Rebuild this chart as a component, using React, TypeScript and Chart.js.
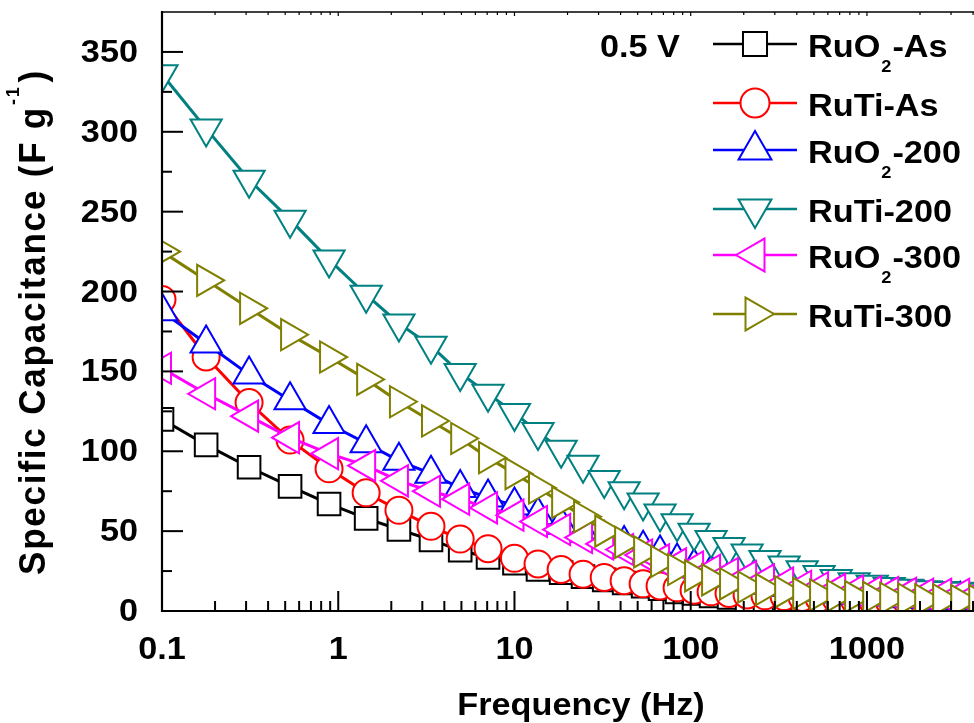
import React, { useEffect, useRef } from 'react';
import { Chart, registerables } from 'chart.js';

Chart.register(...registerables);

// ---------- data ----------
const frequencyHz = [
  0.1, 0.178, 0.312, 0.533, 0.887, 1.44, 2.21, 3.36, 4.92, 7.08,
  10, 13.6, 18.4, 24.5, 32.3, 41.9, 53.7, 67, 83.7, 104.5,
  130.5, 165, 209, 264, 339, 429, 535, 669, 846, 1071,
  1337, 1691, 2112, 2673, 3382, 4280,
];
const ruo2As = [
  120, 104, 90, 78, 67, 58, 51, 44.5, 38, 33.5,
  30, 26, 24, 21.5, 19.5, 17.5, 15.5, 14, 12, 11,
  9.5, 8.5, 7, 6, 5, 4.5, 4, 3.5, 3, 2.5,
  2.5, 2, 2, 2, 2, 2,
];
const rutiAs = [
  195, 159, 130.5, 107, 89, 74, 63, 53, 45, 39,
  33, 29.5, 26, 23, 21, 19, 17, 15.7, 14.5, 13,
  12, 11, 10, 9.5, 9, 8.5, 8, 7.5, 7, 6.5,
  6, 5.5, 5, 5, 5, 5,
];
const ruo2_200 = [
  187.6, 167.5, 148, 132, 117, 105, 94, 86, 77, 71,
  66, 60, 54, 49, 45, 42, 39, 36, 31, 27.6,
  24, 21, 18.5, 16.5, 15, 13.5, 12, 11, 10, 9.5,
  9, 8, 7.5, 7, 7, 7,
];
const ruti200 = [
  336, 302, 270, 245, 220, 198, 180, 166, 149, 136,
  124, 112, 101, 91.5, 82, 75, 68, 61, 55, 49,
  44.5, 40, 36, 32, 28.5, 25.5, 22.5, 20, 18, 16.5,
  15, 14, 13, 12.5, 12, 11.5,
];
const ruo2_300 = [
  152, 136, 122, 108.5, 98.5, 91, 81.5, 75, 70, 64.6,
  60, 56, 51, 46, 42, 38.5, 35, 32, 29.5, 27.5,
  25.5, 23.5, 21.5, 19.5, 17.5, 15.5, 14.5, 13.5, 12.5, 12,
  11.5, 11, 10.5, 10.5, 10.5, 11,
];
const ruti300 = [
  225, 207, 189.5, 173, 159, 145, 131, 119, 108, 96,
  86, 77, 68, 59, 50, 43, 37, 31, 26, 22,
  19.5, 17, 15, 13.5, 12, 11, 10, 9.5, 9, 8.5,
  8, 7.5, 7, 7, 6.5, 6.5,
];

const seriesLabels = ['RuO₂-As', 'RuTi-As', 'RuO₂-200', 'RuTi-200', 'RuO₂-300', 'RuTi-300'];
const xTickValues = [0.1, 1, 10, 100, 1000];
const xTickLabels = ['0.1', '1', '10', '100', '1000'];
const yTickValues = [0, 50, 100, 150, 200, 250, 300, 350];
const yTickLabels = ['0', '50', '100', '150', '200', '250', '300', '350'];
const xTitle = 'Frequency (Hz)';
const yTitleMain = 'Specific Capacitance (F g';
const yTitleSup = '-1';
const yTitleEnd = ')';
const annotationText = '0.5 V';

// ---------- layout / style ----------
const X_MIN = 0.1;
const X_MAX = 4050;
const Y_MIN = 0;
const Y_MAX = 375;

const STYLES = [
  { color: '#000000', pointStyle: 'rect', radius: 16, rotation: 0 },
  { color: '#FF0000', pointStyle: 'circle', radius: 13.5, rotation: 0 },
  { color: '#0000FF', pointStyle: 'triangle', radius: 18, rotation: 0 },
  { color: '#008080', pointStyle: 'triangle', radius: 18, rotation: 180 },
  { color: '#FF00FF', pointStyle: 'triangle', radius: 18, rotation: 270 },
  { color: '#808000', pointStyle: 'triangle', radius: 18, rotation: 90 },
];
const LEGEND_ROWS_Y = [44, 103, 150, 209, 255, 314];
const FAMILY = '"Liberation Sans", Arial, sans-serif';
const FONT32 = `bold 32px ${FAMILY}`;
const SX = 1.07;

function drawShape(ctx: CanvasRenderingContext2D, style: string, x: number, y: number, r: number, rotDeg: number) {
  ctx.beginPath();
  if (style === 'rect') {
    const h = r * Math.SQRT1_2;
    ctx.rect(x - h, y - h, 2 * h, 2 * h);
  } else if (style === 'circle') {
    ctx.arc(x, y, r, 0, Math.PI * 2);
  } else {
    let rad = (rotDeg * Math.PI) / 180;
    ctx.moveTo(x + Math.sin(rad) * r, y - Math.cos(rad) * r);
    rad += (2 * Math.PI) / 3;
    ctx.lineTo(x + Math.sin(rad) * r, y - Math.cos(rad) * r);
    rad += (2 * Math.PI) / 3;
    ctx.lineTo(x + Math.sin(rad) * r, y - Math.cos(rad) * r);
    ctx.closePath();
  }
  ctx.fill();
  ctx.stroke();
}

function measure(ctx: CanvasRenderingContext2D, text: string, font: string, sx: number) {
  ctx.save();
  ctx.font = font;
  const w = ctx.measureText(text).width * sx;
  ctx.restore();
  return w;
}

function drawStretched(ctx: CanvasRenderingContext2D, text: string, x: number, y: number, font: string, sx: number) {
  ctx.save();
  ctx.font = font;
  const w = ctx.measureText(text).width * sx;
  ctx.translate(x, y);
  ctx.scale(sx, 1);
  ctx.textAlign = 'left';
  ctx.textBaseline = 'alphabetic';
  ctx.fillText(text, 0, 0);
  ctx.restore();
  return w;
}

function drawLabel(ctx: CanvasRenderingContext2D, label: string, x: number, baseline: number) {
  let cx = x;
  const parts = label.split(/(₂)/);
  for (const p of parts) {
    if (!p) continue;
    if (p === '₂') {
      cx += 1;
      cx += drawStretched(ctx, '2', cx, baseline + 15, `bold 17px ${FAMILY}`, SX);
      cx += 1;
    } else {
      cx += drawStretched(ctx, p, cx, baseline, FONT32, SX);
    }
  }
}

const decorPlugin = {
  id: 'decor',
  afterDatasetsDraw(chart: any) {
    const { ctx, chartArea: ca } = chart;
    const xs = chart.scales.x;
    const ys = chart.scales.y;
    const line = (x1: number, y1: number, x2: number, y2: number) => {
      ctx.beginPath();
      ctx.moveTo(x1, y1);
      ctx.lineTo(x2, y2);
      ctx.stroke();
    };
    ctx.save();
    ctx.strokeStyle = '#000';
    ctx.lineCap = 'butt';
    ctx.lineWidth = 2;
    for (let d = -1; d <= 4; d++) {
      for (let m = 1; m <= 9; m++) {
        const v = m * Math.pow(10, d);
        if (v < X_MIN - 1e-9 || v > X_MAX) continue;
        const px = xs.getPixelForValue(v);
        const len = m === 1 ? 20 : 10;
        line(px, ca.bottom, px, ca.bottom - len);
        ctx.lineWidth = 1.2;
        line(px, ca.top, px, ca.top + (m === 1 ? 4 : 3));
        ctx.lineWidth = 2;
      }
    }
    for (let v = Y_MIN; v < Y_MAX; v += 25) {
      const py = ys.getPixelForValue(v);
      const len = v % 50 === 0 ? 21 : 10;
      line(ca.left, py, ca.left + len, py);
    }
    ctx.lineWidth = 2.2;
    line(ca.left, ca.top - 1, ca.left, ca.bottom + 1);
    line(ca.left - 1, ca.bottom, ca.right, ca.bottom);
    ctx.lineWidth = 1.6;
    line(ca.left, ca.top, ca.right, ca.top);
    ctx.restore();
  },
  afterDraw(chart: any) {
    const { ctx, chartArea: ca } = chart;
    const xs = chart.scales.x;
    const ys = chart.scales.y;
    ctx.save();
    ctx.fillStyle = '#000';
    xs.ticks.forEach((t: any, i: number) => {
      const px = xs.getPixelForValue(t.value);
      const lab = xTickLabels[i];
      const w = measure(ctx, lab, FONT32, SX);
      drawStretched(ctx, lab, px - w / 2, ca.bottom + 48, FONT32, SX);
    });
    ys.ticks.forEach((t: any, i: number) => {
      const py = ys.getPixelForValue(t.value);
      const lab = yTickLabels[i];
      const w = measure(ctx, lab, FONT32, SX);
      drawStretched(ctx, lab, ca.left - 24 - w, py + 10, FONT32, SX);
    });
    drawStretched(ctx, annotationText, 600, 57, FONT32, SX);
    seriesLabels.forEach((lab, i) => {
      const st = STYLES[i];
      const y = LEGEND_ROWS_Y[i];
      ctx.save();
      ctx.strokeStyle = st.color;
      ctx.lineWidth = 2.5;
      ctx.beginPath();
      ctx.moveTo(713, y);
      ctx.lineTo(797, y);
      ctx.stroke();
      ctx.fillStyle = '#FFFFFF';
      ctx.lineWidth = 2;
      drawShape(ctx, st.pointStyle, 755, y, st.radius + 1, st.rotation);
      ctx.restore();
      ctx.fillStyle = '#000';
      drawLabel(ctx, lab, 808, y + 13);
    });
    const wx = measure(ctx, xTitle, FONT32, SX);
    drawStretched(ctx, xTitle, 581 - wx / 2, 715, FONT32, SX);
    ctx.save();
    ctx.translate(45, 575);
    ctx.rotate(-Math.PI / 2);
    ctx.scale(1, 1.06);
    ctx.textAlign = 'left';
    ctx.textBaseline = 'alphabetic';
    ctx.font = `bold 35px ${FAMILY}`;
    (ctx as any).letterSpacing = '1.8px';
    ctx.fillText(yTitleMain, 0, 0);
    const w1 = ctx.measureText(yTitleMain).width;
    ctx.font = `bold 18px ${FAMILY}`;
    ctx.fillText(yTitleSup, w1 + 1, -25);
    const w2 = ctx.measureText(yTitleSup).width;
    ctx.font = `bold 35px ${FAMILY}`;
    ctx.fillText(yTitleEnd, w1 + w2 + 4, 0);
    ctx.restore();
    ctx.restore();
  },
};

export default function App() {
  const ref = useRef<HTMLCanvasElement>(null);
  useEffect(() => {
    const canvas = ref.current;
    if (!canvas) return;
    const seriesValues = [ruo2As, rutiAs, ruo2_200, ruti200, ruo2_300, ruti300];
    const datasets = seriesValues.map((vals, i) => ({
      label: seriesLabels[i],
      data: frequencyHz.map((f, j) => ({ x: f, y: vals[j] })),
      borderColor: STYLES[i].color,
      backgroundColor: '#FFFFFF',
      borderWidth: 3,
      pointStyle: STYLES[i].pointStyle as any,
      pointRadius: STYLES[i].radius,
      pointRotation: STYLES[i].rotation,
      pointBorderColor: STYLES[i].color,
      pointBackgroundColor: '#FFFFFF',
      pointBorderWidth: 2,
      tension: 0,
      order: seriesValues.length - i,
    }));
    const chart = new Chart(canvas, {
      type: 'line',
      data: { datasets },
      options: {
        animation: false,
        responsive: false,
        devicePixelRatio: 1,
        events: [],
        layout: { autoPadding: false, padding: { top: 12, right: 0, left: 0, bottom: 0 } },
        plugins: { legend: { display: false }, tooltip: { enabled: false }, title: { display: false } },
        scales: {
          x: {
            type: 'logarithmic',
            position: 'bottom',
            bounds: 'data',
            min: X_MIN,
            max: X_MAX,
            grid: { display: false, drawTicks: false },
            border: { display: false },
            afterBuildTicks: (s: any) => {
              s.ticks = xTickValues.map((v) => ({ value: v }));
            },
            afterFit: (s: any) => {
              s.height = 112;
            },
            ticks: { display: false },
          },
          y: {
            type: 'linear',
            bounds: 'data',
            min: Y_MIN,
            max: Y_MAX,
            grid: { display: false, drawTicks: false },
            border: { display: false },
            afterBuildTicks: (s: any) => {
              s.ticks = yTickValues.map((v) => ({ value: v }));
            },
            afterFit: (s: any) => {
              s.width = 162;
            },
            ticks: { display: false },
          },
        },
      },
      plugins: [decorPlugin],
    });
    return () => chart.destroy();
  }, []);
  return (
    <div style={{ position: 'fixed', left: 0, top: 0, width: 974, height: 723, background: '#fff' }}>
      <canvas ref={ref} width={974} height={723} style={{ display: 'block', width: 974, height: 723 }} />
    </div>
  );
}
